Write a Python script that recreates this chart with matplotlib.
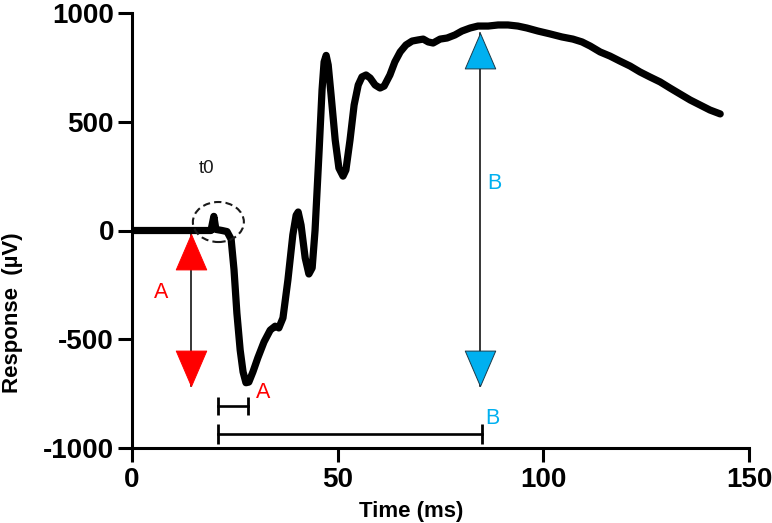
import matplotlib
matplotlib.use("Agg")
import matplotlib.pyplot as plt
from matplotlib.patches import Ellipse
from matplotlib.path import Path

plt.rcParams['font.family'] = ['Liberation Sans', 'DejaVu Sans']

# ---- data ----
time_ms = [0, 10, 19.2, 19.9, 20.4, 21.9, 23.1, 24.1, 24.8, 25.5, 26.3, 27.0, 27.7,
           28.4, 29.4, 30.6, 32.1, 33.6, 34.8, 35.7, 36.7, 37.9, 39.1, 39.9, 40.4,
           41.1, 42.1, 43.0, 43.8, 44.5, 45.5, 46.2, 46.7, 47.2, 47.7, 48.4, 49.4,
           50.3, 51.3, 52.0, 53.0, 54.0, 55.0, 55.9, 56.9, 57.9, 59.1, 60.3, 61.3,
           62.7, 63.9, 65.2, 66.6, 68.1, 69.5, 70.8, 72.0, 73.2, 74.9, 76.6, 78.5,
           80.2, 82.2, 84.1, 86.6, 89.0, 91.4, 93.8, 96.0, 98.7, 101.6, 104.5,
           107.2, 109.4, 111.4, 113.8, 116.2, 118.6, 121.1, 123.5, 125.9, 128.4,
           130.8, 133.2, 135.7, 138.1, 140.5, 143.0]
response_uv = [0, 0, 0, 65, 5, 0, -5, -40, -180, -380, -550, -650, -700,
               -697, -650, -585, -512, -458, -440, -448, -402, -228, -20, 70, 85,
               25, -126, -200, -172, 0, 370, 646, 775, 805, 761, 623, 416,
               287, 250, 278, 416, 577, 669, 706, 715, 701, 669, 655, 664,
               715, 775, 821, 853, 871, 876, 880, 867, 862, 880, 885, 899,
               917, 931, 940, 940, 945, 945, 940, 931, 917, 904, 890,
               880, 867, 848, 821, 802, 779, 756, 729, 706, 683,
               655, 628, 600, 577, 554, 536]

x_ticks = [0, 50, 100, 150]
y_ticks = [-1000, -500, 0, 500, 1000]
x_tick_labels = ['0', '50', '100', '150']
y_tick_labels = ['-1000', '-500', '0', '500', '1000']

# annotation values
arrow_a = (14.3, -15, -715)      # x, top tip, bottom tip
arrow_b = (84.7, 910, -717)
bracket_a = (20.9, 28.2, -805)   # start, end, level
bracket_b = (20.9, 85.0, -935)
t0_circle = (21.0, 39, 12.4, 184)  # centre x, centre y, width, height
labels = [("t0", 18.2, 287, '#1a1a1a'),
          ("A", 7.05, -283, '#ff0000'),
          ("A", 31.9, -743, '#ff0000'),
          ("B", 88.0, 218, '#00b0f0'),
          ("B", 87.5, -865, '#00b0f0')]

RED = '#ff0000'
BLUE = '#00b0f0'

fig = plt.figure(figsize=(7.72, 5.23), dpi=100)
ax = fig.add_axes([132/772, 1-448/523, (749-132)/772, (448-13)/523])

ax.plot(time_ms, response_uv, color='black', lw=5.2,
        solid_capstyle='round', solid_joinstyle='round', zorder=5)

up_tri = Path([(0, 0), (-0.43, -1), (0.43, -1), (0, 0)],
              [Path.MOVETO, Path.LINETO, Path.LINETO, Path.CLOSEPOLY])
down_tri = Path([(0, 0), (-0.43, 1), (0.43, 1), (0, 0)],
                [Path.MOVETO, Path.LINETO, Path.LINETO, Path.CLOSEPOLY])


def double_arrow(x, top, bot, color, edge):
    ax.plot([x, x], [top, bot], color='black', lw=1.1, zorder=3)
    ax.plot([x], [top], marker=up_tri, ms=51, color=color,
            markeredgecolor=edge, markeredgewidth=0.7, ls='none', zorder=4)
    ax.plot([x], [bot], marker=down_tri, ms=51, color=color,
            markeredgecolor=edge, markeredgewidth=0.7, ls='none', zorder=4)


double_arrow(*arrow_a, RED, RED)
double_arrow(*arrow_b, BLUE, '#1a3a4a')


def bracket(x0, x1, y, cap):
    ax.plot([x0, x1], [y, y], color='black', lw=1.9, zorder=3)
    ax.plot([x0, x1], [y, y], marker='|', ms=cap, mew=2.0,
            color='black', ls='none', zorder=3)


bracket(*bracket_a, 13.5)
bracket(*bracket_b, 14.5)

cx, cy, w, h = t0_circle
ax.add_patch(Ellipse((cx, cy), w, h, fill=False, ec='#1a1a1a', lw=1.5,
                     ls=(0, (3.5, 2)), zorder=6))

for txt, x, y, c in labels:
    ax.text(x, y, txt, color=c, fontsize=13.5 if txt == 't0' else 15.5,
            ha='center', va='center', zorder=7)

ax.set_xlim(0, 150)
ax.set_ylim(-1000, 1000)
ax.set_xticks(x_ticks)
ax.set_xticklabels(x_tick_labels)
ax.set_yticks(y_ticks)
ax.set_yticklabels(y_tick_labels)
for s in ['top', 'right']:
    ax.spines[s].set_visible(False)
for s in ['left', 'bottom']:
    ax.spines[s].set_linewidth(2.2)
ax.tick_params(axis='both', length=10, width=2.2, labelsize=20)
ax.tick_params(axis='x', pad=4)
ax.tick_params(axis='y', pad=3)
for lab in ax.get_xticklabels() + ax.get_yticklabels():
    lab.set_fontweight('bold')

fig.text(411/772, 1-511/523, 'Time (ms)', ha='center', va='center',
         fontsize=16, fontweight='bold')
fig.text(13/772, 1-313/523, 'Response  (µV)', ha='center', va='center',
         rotation=90, fontsize=16, fontweight='bold')

fig.savefig('out.png', dpi=100)
